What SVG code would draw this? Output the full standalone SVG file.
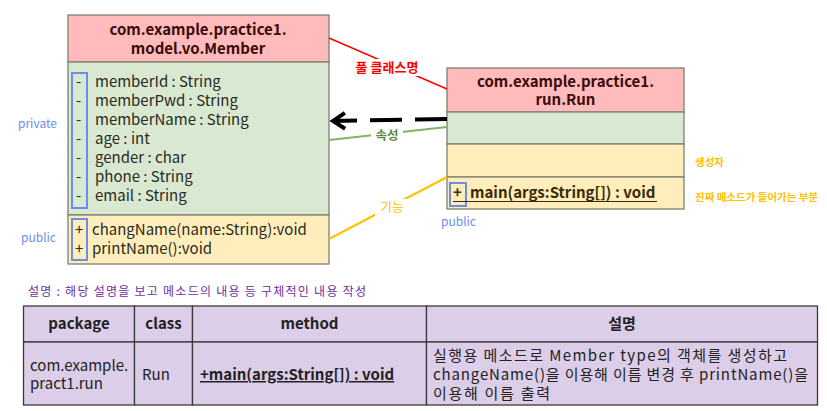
<svg xmlns="http://www.w3.org/2000/svg" width="827" height="411" viewBox="0 0 827 411">
<style>
text{font-family:"Noto Sans CJK KR","Noto Sans",sans-serif;}
.box{stroke:#7f7f73;stroke-width:1.3;}
.hd{fill:#FFBBBB;}
.gr{fill:#D9E8D0;}
.ye{fill:#FFEEBB;}
.title{font-size:15px;font-weight:bold;fill:#3a0a0a;text-anchor:middle;}
.attr{font-size:15px;fill:#2a2a1e;}
.mark{fill:none;stroke:#6D8CF0;stroke-width:2;}
.side{font-size:12px;fill:#6D8CF0;}
.note{font-size:10.5px;fill:#FFC000;font-weight:bold;}
.tb{fill:#DCCDE8;stroke:#3a3a3a;stroke-width:1.3;}
.th{font-size:15px;font-weight:bold;fill:#222;text-anchor:middle;}
.td{font-size:15px;fill:#222;}
.desc{font-size:15px;fill:#222;}
</style>
<defs>
<marker id="open" markerWidth="20" markerHeight="20" refX="16" refY="10" orient="auto" markerUnits="userSpaceOnUse" viewBox="0 0 20 20">
<path d="M4,2 L16,10 L4,18" fill="none" stroke="#000" stroke-width="4" stroke-linejoin="miter"/>
</marker>
</defs>

<g id="member">
<rect class="box hd" x="68" y="15" width="261" height="47"/>
<rect class="box gr" x="68" y="62" width="261" height="153"/>
<rect class="box ye" x="68" y="215" width="261" height="49"/>
<text class="title" x="198" y="35">com.example.practice1.</text>
<text class="title" x="198" y="54">model.vo.Member</text>
<rect class="mark" x="72" y="73" width="15" height="135"/>
<g class="attr">
<text x="76" y="87">-</text><text x="95" y="87">memberId : String</text>
<text x="76" y="106">-</text><text x="95" y="106">memberPwd : String</text>
<text x="76" y="125">-</text><text x="95" y="125">memberName : String</text>
<text x="76" y="144">-</text><text x="95" y="144">age : int</text>
<text x="76" y="163">-</text><text x="95" y="163">gender : char</text>
<text x="76" y="182">-</text><text x="95" y="182">phone : String</text>
<text x="76" y="201">-</text><text x="95" y="201">email : String</text>
</g>
<rect class="mark" x="72" y="219" width="15" height="41"/>
<g class="attr">
<text x="75" y="235">+</text><text x="92" y="235">changName(name:String):void</text>
<text x="75" y="254">+</text><text x="92" y="254">printName():void</text>
</g>
</g>
<text class="side" x="18" y="128">private</text>
<text class="side" x="21" y="242">public</text>

<g id="run">
<rect class="box hd" x="447" y="68" width="237" height="44"/>
<rect class="box gr" x="447" y="112" width="237" height="32"/>
<rect class="box ye" x="447" y="144" width="237" height="33"/>
<rect class="box ye" x="447" y="177" width="237" height="32"/>
<text class="title" x="565.5" y="87">com.example.practice1.</text>
<text class="title" x="565.5" y="105">run.Run</text>
<rect class="mark" x="450" y="183" width="16" height="23"/>
<text x="453" y="198" style="font-size:15px;font-weight:bold;fill:#3a2a00">+</text>
<text x="470" y="198" style="font-size:15px;font-weight:bold;fill:#3a2a00">main(args:String[]) : void</text>
<line x1="453" y1="201.5" x2="657" y2="201.5" stroke="#3a2a00" stroke-width="1.2"/>
</g>
<text class="side" x="441" y="226">public</text>
<text class="note" x="695" y="166">생성자</text>
<text class="note" x="695" y="201">진짜 메소드가 들어가는 부분</text>

<g id="connectors">
<line x1="329" y1="38" x2="447" y2="89" stroke="#FF0000" stroke-width="1.5"/>
<line x1="447" y1="127" x2="329" y2="140" stroke="#82B366" stroke-width="2"/>
<line x1="447" y1="177" x2="329" y2="239" stroke="#FFC000" stroke-width="2"/>
<path d="M447,119 L333,121" fill="none" stroke="#000" stroke-width="4" stroke-dasharray="32,13" marker-end="url(#open)"/>
<rect x="353" y="59" width="68" height="17" fill="#fff"/>
<text x="387" y="72" style="font-size:13px;font-weight:bold;fill:#FF0000;text-anchor:middle">풀 클래스명</text>
<rect x="371" y="128" width="32" height="16" fill="#fff"/>
<text x="387" y="140" style="font-size:12.5px;font-weight:bold;fill:#5E8A45;text-anchor:middle">속성</text>
<rect x="375" y="199" width="32" height="17" fill="#fff"/>
<text x="392" y="212" style="font-size:12.5px;fill:#FFC000;text-anchor:middle">기능</text>
</g>

<text x="28" y="296" textLength="338" lengthAdjust="spacing" style="font-size:12px;fill:#7030A0">설명 : 해당 설명을 보고 메소드의 내용 등 구체적인 내용 작성</text>

<g id="table">
<rect class="tb" x="23.5" y="306" width="111" height="36"/>
<rect class="tb" x="134.5" y="306" width="58" height="36"/>
<rect class="tb" x="192.5" y="306" width="234" height="36"/>
<rect class="tb" x="426.5" y="306" width="391" height="36"/>
<rect class="tb" x="23.5" y="342" width="111" height="63"/>
<rect class="tb" x="134.5" y="342" width="58" height="63"/>
<rect class="tb" x="192.5" y="342" width="234" height="63"/>
<rect class="tb" x="426.5" y="342" width="391" height="63"/>
<text class="th" x="79" y="329">package</text>
<text class="th" x="163.5" y="329">class</text>
<text class="th" x="309.5" y="329">method</text>
<text class="th" x="622" y="329">설명</text>
<text class="td" x="30" y="371">com.example.</text>
<text class="td" x="30" y="389">pract1.run</text>
<text class="td" x="142" y="380">Run</text>
<text x="200" y="380" style="font-size:15px;font-weight:bold;fill:#222;text-decoration:underline">+main(args:String[]) : void</text>
<text class="desc" x="433" y="361" textLength="354" lengthAdjust="spacing">실행용 메소드로 Member type의 객체를 생성하고</text>
<text class="desc" x="433" y="380" textLength="375" lengthAdjust="spacing">changeName()을 이용해 이름 변경 후 printName()을</text>
<text class="desc" x="433" y="399" textLength="117" lengthAdjust="spacing">이용해 이름 출력</text>
</g>
</svg>
